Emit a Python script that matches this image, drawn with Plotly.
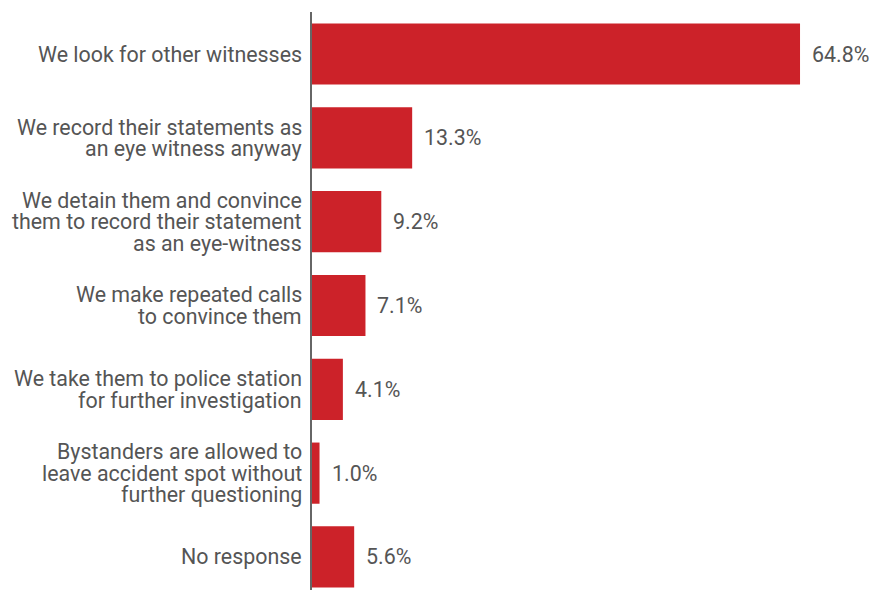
import plotly.graph_objects as go

categories = [
    "We look for other witnesses",
    "We record their statements as<br>an eye witness anyway",
    "We detain them and convince<br>them to record their statement<br>as an eye-witness",
    "We make repeated calls<br>to convince them",
    "We take them to police station<br>for further investigation",
    "Bystanders are allowed to<br>leave accident spot without<br>further questioning",
    "No response",
]
values = [64.8, 13.3, 9.2, 7.1, 4.1, 1.0, 5.6]
value_labels = ["64.8%", "13.3%", "9.2%", "7.1%", "4.1%", "1.0%", "5.6%"]

BAR_RED = "#cc2229"
TEXT_GREY = "#555555"
FONT = "Roboto"
FONT_SIZE = 21.4
LINE_STEP = 21.5  # tight leading for the multi-line category labels

positions = list(range(len(categories)))

fig = go.Figure(
    go.Bar(
        x=values,
        y=positions,
        orientation="h",
        width=0.73,
        marker=dict(color=BAR_RED, line=dict(width=0)),
        hoverinfo="skip",
    )
)

# value labels just past the end of each bar
for pos, val, lab in zip(positions, values, value_labels):
    fig.add_annotation(
        x=val, y=pos, text=lab, showarrow=False,
        xanchor="left", yanchor="middle", xshift=10,
        font=dict(family=FONT, size=FONT_SIZE, color=TEXT_GREY),
    )

# category labels, one annotation per line so the leading stays compact
for pos, cat in zip(positions, categories):
    lines = cat.split("<br>")
    n = len(lines)
    for k, line in enumerate(lines):
        fig.add_annotation(
            xref="paper", x=0, y=pos, text=line, showarrow=False,
            xanchor="right", yanchor="middle",
            xshift=-8, yshift=((n - 1) / 2 - k) * LINE_STEP,
            font=dict(family=FONT, size=FONT_SIZE, color=TEXT_GREY),
        )

fig.update_layout(
    width=870, height=590,
    margin=dict(l=312, r=0, t=12, b=0),
    paper_bgcolor="white", plot_bgcolor="white",
    showlegend=False,
    font=dict(family=FONT, size=FONT_SIZE, color=TEXT_GREY),
    xaxis=dict(
        range=[0, 74.09], visible=False, showgrid=False, zeroline=False,
    ),
    yaxis=dict(
        range=[6.394, -0.501],
        showticklabels=False, showgrid=False, zeroline=False,
        showline=True, linecolor="#666666", linewidth=2, ticks="",
    ),
)

fig.write_html("out.html")
